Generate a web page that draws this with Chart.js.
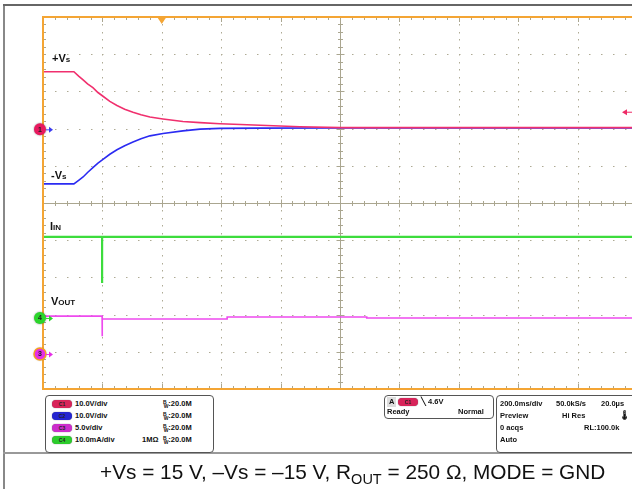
<!DOCTYPE html>
<html>
<head>
<meta charset="utf-8">
<script src="https://cdn.jsdelivr.net/npm/chart.js@4"></script>
<style>
  html, body { margin: 0; padding: 0; background: #fff; overflow: hidden; width: 632px; height: 489px; }
  #wrap { position: relative; width: 640px; height: 489px; font-family: "Liberation Sans", Arial, sans-serif; }
  canvas { position: absolute; left: 0; top: 0; }
  .t { position: absolute; white-space: nowrap; color: #111; line-height: 1; }
  .lbl { font-weight: bold; font-size: 11px; }
  .lbl small { font-size: 8px; }
  .p { font-size: 7.5px; font-weight: bold; }
  .bw { font-size: 5px; position: relative; }
  .box { position: absolute; border: 1px solid #555; border-radius: 4px; background: #fff; }
  .pill { position: absolute; width: 20px; height: 8px; border-radius: 4px; font-size: 5px; font-weight: bold;
          text-align: center; line-height: 8px; color: #222; box-shadow: 0 0 1px #555; }
  .frame { position: absolute; background: #888; }
</style>
</head>
<body>
<div id="wrap">
  <div class="frame" style="left:3px;top:4px;width:2px;height:485px;"></div>
  <div class="frame" style="left:3px;top:4px;width:637px;height:2px;background:#666;"></div>
  <div class="frame" style="left:3px;top:452px;width:637px;height:2px;background:#999;"></div>
  <canvas id="chart" width="640" height="489"></canvas>

  <!-- trace labels -->
  <div class="t lbl" style="left:52px;top:53px;">+V<small>s</small></div>
  <div class="t lbl" style="left:51px;top:170px;">-V<small>s</small></div>
  <div class="t lbl" style="left:50px;top:221px;">I<small>IN</small></div>
  <div class="t lbl" style="left:51px;top:296px;">V<small>OUT</small></div>

  <!-- channel box -->
  <div class="box" style="left:45px;top:395px;width:167px;height:56px;"></div>
  <div class="pill" style="left:52px;top:400px;background:#d8245a;">C1</div>
  <div class="pill" style="left:52px;top:412px;background:#2626d0;">C2</div>
  <div class="pill" style="left:52px;top:424px;background:#cc2ccc;">C3</div>
  <div class="pill" style="left:52px;top:436px;background:#2ccc2c;">C4</div>
  <div class="t p" style="left:75px;top:400px;">10.0V/div</div>
  <div class="t p" style="left:75px;top:412px;">10.0V/div</div>
  <div class="t p" style="left:75px;top:424px;">5.0v/div</div>
  <div class="t p" style="left:75px;top:436px;">10.0mA/div</div>
  <div class="t p" style="left:163px;top:400px;"><span class="bw" style="top:-2px">B</span><span class="bw" style="top:2px;left:-3px">W</span><span style="position:relative;left:-3px">:20.0M</span></div>
  <div class="t p" style="left:163px;top:412px;"><span class="bw" style="top:-2px">B</span><span class="bw" style="top:2px;left:-3px">W</span><span style="position:relative;left:-3px">:20.0M</span></div>
  <div class="t p" style="left:163px;top:424px;"><span class="bw" style="top:-2px">B</span><span class="bw" style="top:2px;left:-3px">W</span><span style="position:relative;left:-3px">:20.0M</span></div>
  <div class="t p" style="left:163px;top:436px;"><span class="bw" style="top:-2px">B</span><span class="bw" style="top:2px;left:-3px">W</span><span style="position:relative;left:-3px">:20.0M</span></div>
  <div class="t p" style="left:142px;top:436px;">1MΩ</div>

  <!-- trigger box -->
  <div class="box" style="left:384px;top:395px;width:108px;height:22px;"></div>
  <div class="t p" style="left:387px;top:397px;background:#ddd;padding:1px 2px;">A</div>
  <div class="pill" style="left:398px;top:398px;background:#d8245a;">C1</div>
  <div class="t p" style="left:421px;top:398px;">╲ 4.6V</div>
  <div class="t p" style="left:387px;top:408px;">Ready</div>
  <div class="t p" style="left:458px;top:408px;">Normal</div>

  <!-- timebase box -->
  <div class="box" style="left:496px;top:395px;width:150px;height:56px;"></div>
  <div class="t p" style="left:500px;top:400px;">200.0ms/div</div>
  <div class="t p" style="left:556px;top:400px;">50.0kS/s</div>
  <div class="t p" style="left:601px;top:400px;">20.0µs</div>
  <div class="t p" style="left:500px;top:412px;">Preview</div>
  <div class="t p" style="left:562px;top:412px;">Hi Res</div>
  <div class="t p" style="left:619px;top:411px;font-size:9px;">🌡</div>
  <div class="t p" style="left:500px;top:424px;">0 acqs</div>
  <div class="t p" style="left:584px;top:424px;">RL:100.0k</div>
  <div class="t p" style="left:500px;top:436px;">Auto</div>

  <!-- caption -->
  <div class="t" style="left:100px;top:462px;font-size:20.8px;color:#111;">+Vs = 15 V, –Vs = –15 V, R<sub style="font-size:14.5px;vertical-align:-5px;">OUT</sub> = 250 Ω, MODE = GND</div>
</div>

<script>
// time axis: 200 ms/div, 10 divisions
const msPerDiv = 200;
const triggerMs = 400;
const triggerLevelV = 4.6;

// channel settings (units per division, ground position in divisions from centre)
const ch12PerDiv = 10;   // V/div, C1 and C2
const ch12Pos = 1.98;
const ch4PerDiv = 10;    // mA/div
const ch4Pos = -3.09;
const ch3PerDiv = 5;     // V/div
const ch3Pos = -4.06;

// C1: +Vs (V)
const posTime = [0, 104, 120, 135, 150, 168, 185, 202, 225, 249, 275, 303, 330, 360, 404, 471, 529, 596, 665, 731, 865, 1000, 2000];
const posVolts = [15.5, 15.5, 14.3, 13.3, 12.2, 11.2, 9.9, 8.9, 7.5, 6.4, 5.4, 4.6, 3.9, 3.3, 2.8, 2.1, 1.8, 1.5, 1.3, 1.1, 0.7, 0.45, 0.45];

// C2: -Vs (V)
const negTime = [0, 104, 120, 135, 150, 168, 185, 202, 225, 249, 275, 303, 330, 360, 404, 471, 529, 596, 731, 1000, 2000];
const negVolts = [-14.65, -14.65, -13.7, -12.8, -11.6, -10.3, -9.1, -8.1, -6.7, -5.5, -4.4, -3.4, -2.5, -1.75, -1.1, -0.4, 0.05, 0.27, 0.32, 0.35, 0.35];

// C4: IIN (mA)
const iinTime = [0, 199, 199, 199, 2000];
const iinMa = [21.8, 21.8, 9.4, 21.8, 21.8];

// C3: VOUT (V)
const voutTime = [0, 199, 199, 200, 620, 620, 1090, 1090, 2000];
const voutVolts = [5.1, 5.1, 2.4, 4.7, 4.7, 4.97, 4.97, 4.85, 4.85];

const pts = (xs, ys) => xs.map((x, i) => ({ x, y: ys[i] }));
const range = (perDiv, pos) => ({ min: (-5 - pos) * perDiv, max: (5 - pos) * perDiv });

const ORANGE = '#f4a534';
const GRID = '#aeaa94';

function marker(ctx, x, y, fill, ring, label, arrowColor) {
  ctx.save();
  ctx.shadowColor = 'rgba(0,0,0,0.45)';
  ctx.shadowBlur = 2;
  ctx.beginPath();
  ctx.arc(x, y, 6, 0, Math.PI * 2);
  ctx.fillStyle = fill;
  ctx.fill();
  ctx.shadowBlur = 0;
  if (ring) { ctx.lineWidth = 1.5; ctx.strokeStyle = ring; ctx.stroke(); }
  ctx.fillStyle = '#222';
  ctx.font = 'bold 7px "Liberation Sans", Arial';
  ctx.textAlign = 'center';
  ctx.textBaseline = 'middle';
  ctx.fillText(label, x, y + 0.5);
  ctx.strokeStyle = arrowColor;
  ctx.fillStyle = arrowColor;
  ctx.lineWidth = 1;
  ctx.beginPath(); ctx.moveTo(x + 6, y + 0.5); ctx.lineTo(x + 11, y + 0.5); ctx.stroke();
  ctx.beginPath(); ctx.moveTo(x + 13, y + 0.5); ctx.lineTo(x + 9, y - 2.5); ctx.lineTo(x + 9, y + 3.5); ctx.closePath(); ctx.fill();
  ctx.restore();
}

const scopePlugin = {
  id: 'scope',
  beforeDatasetsDraw(chart) {
    const { ctx, chartArea: a, scales: { x, yDiv } } = chart;
    ctx.save();
    ctx.fillStyle = GRID;
    // dotted major lines
    for (let i = 1; i < 10; i++) {
      if (i === 5) continue;
      const px = Math.round(x.getPixelForValue(i * msPerDiv));
      for (let j = 1; j < 50; j++) {
        ctx.fillRect(px, Math.round(yDiv.getPixelForValue(-5 + j * 0.2)), 1, 1.5);
      }
      const py = Math.round(yDiv.getPixelForValue(-5 + i));
      for (let j = 1; j < 50; j++) {
        ctx.fillRect(Math.round(x.getPixelForValue(j * msPerDiv / 5)), py, 1.5, 1);
      }
    }
    // centre cross with ticks
    ctx.strokeStyle = '#aaa690';
    ctx.lineWidth = 1;
    const cx = Math.round(x.getPixelForValue(5 * msPerDiv)) + 0.5;
    const cy = Math.round(yDiv.getPixelForValue(0)) + 0.5;
    ctx.beginPath();
    ctx.moveTo(cx, a.top); ctx.lineTo(cx, a.bottom);
    ctx.moveTo(a.left, cy); ctx.lineTo(a.right, cy);
    for (let j = 1; j < 50; j++) {
      const py = Math.round(yDiv.getPixelForValue(-5 + j * 0.2)) + 0.5;
      const w = j % 5 === 0 ? 4 : 2.5;
      ctx.moveTo(cx - w, py); ctx.lineTo(cx + w, py);
      ctx.moveTo(a.left, py); ctx.lineTo(a.left + 3, py);
      const px = Math.round(x.getPixelForValue(j * msPerDiv / 5)) + 0.5;
      ctx.moveTo(px, cy - w); ctx.lineTo(px, cy + w);
      ctx.moveTo(px, a.top); ctx.lineTo(px, a.top + (j % 5 === 0 ? 5 : 3));
      ctx.moveTo(px, a.bottom); ctx.lineTo(px, a.bottom - (j % 5 === 0 ? 5 : 3));
    }
    ctx.stroke();
    ctx.restore();
  },
  afterDatasetsDraw(chart) {
    const { ctx, chartArea: a, scales: { x, yV, yI, yO } } = chart;
    ctx.save();
    ctx.strokeStyle = ORANGE;
    ctx.lineWidth = 2;
    ctx.strokeRect(a.left, a.top, a.right - a.left, a.bottom - a.top);
    // trigger position
    const tx = x.getPixelForValue(triggerMs);
    ctx.fillStyle = ORANGE;
    ctx.beginPath();
    ctx.moveTo(tx - 4, a.top + 1); ctx.lineTo(tx + 4, a.top + 1); ctx.lineTo(tx, a.top + 7);
    ctx.closePath(); ctx.fill();
    // trigger level
    const ty = yV.getPixelForValue(triggerLevelV);
    ctx.strokeStyle = '#ee2a66'; ctx.fillStyle = '#ee2a66'; ctx.lineWidth = 1;
    ctx.beginPath(); ctx.moveTo(624, ty); ctx.lineTo(640, ty); ctx.stroke();
    ctx.beginPath(); ctx.moveTo(622, ty); ctx.lineTo(627, ty - 3); ctx.lineTo(627, ty + 3); ctx.closePath(); ctx.fill();
    ctx.restore();
    marker(ctx, 40, yV.getPixelForValue(0), '#e8195f', null, '1', '#3b3bf0');
    marker(ctx, 40, yI.getPixelForValue(0), '#2bd62b', null, '4', '#2bd62b');
    marker(ctx, 40, yO.getPixelForValue(0), '#e52ee5', '#f5a020', '3', '#e52ee5');
  }
};

const lineDs = (data, color, axis, width) => ({
  data, borderColor: color, borderWidth: width, yAxisID: axis,
  pointRadius: 0, tension: 0, fill: false
});

new Chart(document.getElementById('chart'), {
  type: 'line',
  data: {
    datasets: [
      lineDs(pts(posTime, posVolts), '#f0306e', 'yV', 1.6),
      lineDs(pts(negTime, negVolts), '#2b2bf2', 'yV', 1.6),
      lineDs(pts(iinTime, iinMa), '#3ddc3d', 'yI', 2.2),
      lineDs(pts(voutTime, voutVolts), '#ee4aee', 'yO', 1.6)
    ]
  },
  options: {
    responsive: false,
    animation: false,
    events: [],
    layout: { padding: { left: 43, top: 17, right: 3, bottom: 100 } },
    plugins: { legend: { display: false }, tooltip: { enabled: false } },
    scales: {
      x: { type: 'linear', min: 0, max: 10 * msPerDiv, display: false },
      yDiv: { type: 'linear', min: -5, max: 5, display: false },
      yV: { type: 'linear', ...range(ch12PerDiv, ch12Pos), display: false },
      yI: { type: 'linear', ...range(ch4PerDiv, ch4Pos), display: false },
      yO: { type: 'linear', ...range(ch3PerDiv, ch3Pos), display: false }
    }
  },
  plugins: [scopePlugin]
});
</script>
</body>
</html>
